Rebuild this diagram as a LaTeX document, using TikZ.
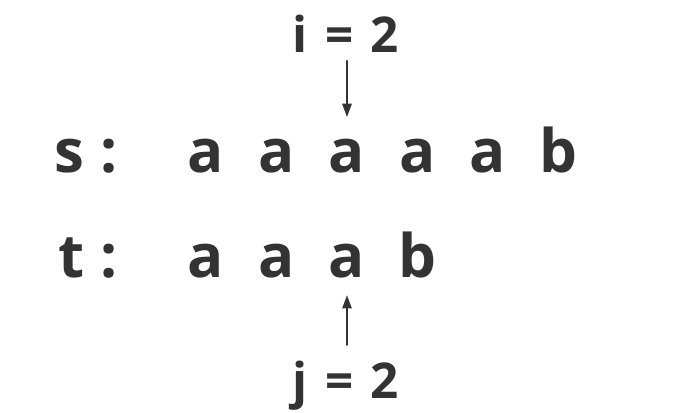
\documentclass[tikz,border=0pt]{standalone}
\usepackage{fontspec}
\setmainfont{Open Sans}
\usetikzlibrary{arrows.meta}
\definecolor{ink}{HTML}{333333}
\tikzstyle{every node}=[text=ink,font=\bfseries,inner sep=0pt]
\tikzstyle{every path}=[line width=1.3pt,line cap=round,line join=round]
\tikzstyle{char}=[anchor=base,font=\fontsize{45}{50}\bfseries\selectfont]
\tikzstyle{idx}=[anchor=base,font=\fontsize{37}{42}\bfseries\selectfont,
    execute at begin node={\spaceskip=13pt\relax}]
\tikzstyle{ptr}=[draw=ink,-{Triangle[length=10pt,width=7pt]}]

\begin{document}
\begin{tikzpicture}[x=0.75pt,y=-0.75pt]
    \useasboundingbox (0,0) rectangle (674,412);

    % string s
    \node [char,anchor=base west] (sname) at (54,172) {s :};
    \foreach \c [count=\k] in {a,a,a,a,a,b}
        \node [char] (s\k) at ({206+70.5*(\k-1)},172) {\c};

    % string t
    \node [char,anchor=base west] (tname) at (58,277) {t :};
    \foreach \c [count=\k] in {a,a,a,b}
        \node [char] (t\k) at ({206+70.5*(\k-1)},277) {\c};

    % indices
    \node [idx] (ilab) at (346,52) {i = 2};
    \node [idx] (jlab) at (346,398) {j = 2};

    % pointers
    \draw [ptr,shorten <=6pt,shorten >=15.5pt] (ilab.south -| s3.north) -- (s3.north);
    \draw [ptr,shorten <=11pt,shorten >=12.5pt] (jlab.north -| t3.south) -- (t3.south);
\end{tikzpicture}
\end{document}
